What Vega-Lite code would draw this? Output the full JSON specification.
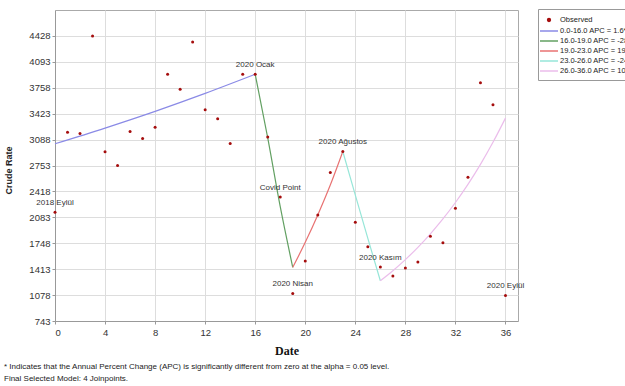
{
  "$schema": "https://vega.github.io/schema/vega-lite/v6.json",
  "autosize": "none",
  "width": 463,
  "height": 311,
  "padding": {"left": 55, "top": 10, "right": 107, "bottom": 65},
  "background": "white",
  "config": {
    "font": "Liberation Sans",
    "view": {"stroke": "#aaaaaa", "strokeWidth": 1},
    "axis": {"labelFont": "Liberation Sans", "labelFontSize": 9.5, "labelColor": "#333333", "gridColor": "#dddddd", "domainColor": "#999999", "tickColor": "#999999", "tickSize": 3}
  },
  "title": {
    "text": ["* Indicates that the Annual Percent Change (APC) is significantly different from zero at the alpha = 0.05 level.", "Final Selected Model: 4 Joinpoints."],
    "orient": "bottom",
    "anchor": "start",
    "frame": "group",
    "dx": -51,
    "offset": 6,
    "fontSize": 8,
    "fontWeight": "normal",
    "color": "#222222",
    "lineHeight": 12,
    "font": "Liberation Sans"
  },
  "datasets": {
    "obs": [
      {"x": 0, "y": 2148, "label": "2018 Eylül"},
      {"x": 1, "y": 3184, "label": null},
      {"x": 2, "y": 3167, "label": null},
      {"x": 3, "y": 4428, "label": null},
      {"x": 4, "y": 2930, "label": null},
      {"x": 5, "y": 2753, "label": null},
      {"x": 6, "y": 3193, "label": null},
      {"x": 7, "y": 3103, "label": null},
      {"x": 8, "y": 3249, "label": null},
      {"x": 9, "y": 3932, "label": null},
      {"x": 10, "y": 3737, "label": null},
      {"x": 11, "y": 4350, "label": null},
      {"x": 12, "y": 3474, "label": null},
      {"x": 13, "y": 3358, "label": null},
      {"x": 14, "y": 3038, "label": null},
      {"x": 15, "y": 3932, "label": null},
      {"x": 16, "y": 3932, "label": "2020 Ocak"},
      {"x": 17, "y": 3120, "label": null},
      {"x": 18, "y": 2347, "label": "Covid Point"},
      {"x": 19, "y": 1099, "label": "2020 Nisan"},
      {"x": 20, "y": 1518, "label": null},
      {"x": 21, "y": 2114, "label": null},
      {"x": 22, "y": 2662, "label": null},
      {"x": 23, "y": 2934, "label": "2020 Ağustos"},
      {"x": 24, "y": 2020, "label": null},
      {"x": 25, "y": 1704, "label": null},
      {"x": 26, "y": 1441, "label": "2020 Kasım"},
      {"x": 27, "y": 1324, "label": null},
      {"x": 28, "y": 1428, "label": null},
      {"x": 29, "y": 1505, "label": null},
      {"x": 30, "y": 1837, "label": null},
      {"x": 31, "y": 1755, "label": null},
      {"x": 32, "y": 2200, "label": null},
      {"x": 33, "y": 2601, "label": null},
      {"x": 34, "y": 3824, "label": null},
      {"x": 35, "y": 3539, "label": null},
      {"x": 36, "y": 1073, "label": "2020 Eylül"}
    ],
    "fit": [
      {"x": 0, "y": 3034, "segment": "0.0-16.0 APC =  1.6*"},
      {"x": 4, "y": 3237, "segment": "0.0-16.0 APC =  1.6*"},
      {"x": 8, "y": 3453, "segment": "0.0-16.0 APC =  1.6*"},
      {"x": 12, "y": 3685, "segment": "0.0-16.0 APC =  1.6*"},
      {"x": 16, "y": 3932, "segment": "0.0-16.0 APC =  1.6*"},
      {"x": 16, "y": 3932, "segment": "16.0-19.0 APC = -28.3*"},
      {"x": 17, "y": 3110, "segment": "16.0-19.0 APC = -28.3*"},
      {"x": 18, "y": 2220, "segment": "16.0-19.0 APC = -28.3*"},
      {"x": 19, "y": 1436, "segment": "16.0-19.0 APC = -28.3*"},
      {"x": 19, "y": 1436, "segment": "19.0-23.0 APC =  19.3*"},
      {"x": 20, "y": 1760, "segment": "19.0-23.0 APC =  19.3*"},
      {"x": 21, "y": 2114, "segment": "19.0-23.0 APC =  19.3*"},
      {"x": 22, "y": 2500, "segment": "19.0-23.0 APC =  19.3*"},
      {"x": 23, "y": 2934, "segment": "19.0-23.0 APC =  19.3*"},
      {"x": 23, "y": 2934, "segment": "23.0-26.0 APC = -24.0*"},
      {"x": 24, "y": 2370, "segment": "23.0-26.0 APC = -24.0*"},
      {"x": 25, "y": 1810, "segment": "23.0-26.0 APC = -24.0*"},
      {"x": 26, "y": 1263, "segment": "23.0-26.0 APC = -24.0*"},
      {"x": 26, "y": 1263, "segment": "26.0-36.0 APC = 10.3*"},
      {"x": 27, "y": 1393, "segment": "26.0-36.0 APC = 10.3*"},
      {"x": 28, "y": 1537, "segment": "26.0-36.0 APC = 10.3*"},
      {"x": 29, "y": 1695, "segment": "26.0-36.0 APC = 10.3*"},
      {"x": 30, "y": 1870, "segment": "26.0-36.0 APC = 10.3*"},
      {"x": 31, "y": 2062, "segment": "26.0-36.0 APC = 10.3*"},
      {"x": 32, "y": 2275, "segment": "26.0-36.0 APC = 10.3*"},
      {"x": 33, "y": 2509, "segment": "26.0-36.0 APC = 10.3*"},
      {"x": 34, "y": 2768, "segment": "26.0-36.0 APC = 10.3*"},
      {"x": 35, "y": 3053, "segment": "26.0-36.0 APC = 10.3*"},
      {"x": 36, "y": 3366, "segment": "26.0-36.0 APC = 10.3*"}
    ]
  },
  "encoding": {
    "x": {
      "field": "x", "type": "quantitative",
      "scale": {"domain": [0, 37], "nice": false, "zero": false},
      "axis": {"values": [0, 4, 8, 12, 16, 20, 24, 28, 32, 36], "format": "d", "title": "Date", "titleFont": "Liberation Serif", "titleFontSize": 12, "titleFontWeight": "bold", "titleColor": "#111111", "titlePadding": 9, "labelPadding": 3}
    },
    "y": {
      "field": "y", "type": "quantitative",
      "scale": {"domain": [743, 4763], "nice": false, "zero": false},
      "axis": {"values": [743, 1078, 1413, 1748, 2083, 2418, 2753, 3088, 3423, 3758, 4093, 4428], "format": "d", "title": "Crude Rate", "titleFontSize": 9, "titleFontWeight": "bold", "titleColor": "#222222", "titleX": -42, "titleY": 160, "labelPadding": 2}
    }
  },
  "layer": [
    {
      "data": {"name": "fit"},
      "mark": {"type": "line", "interpolate": "monotone", "strokeWidth": 1.2},
      "encoding": {
        "color": {
          "field": "segment", "type": "nominal",
          "scale": {
            "domain": ["Observed", "0.0-16.0 APC =  1.6*", "16.0-19.0 APC = -28.3*", "19.0-23.0 APC =  19.3*", "23.0-26.0 APC = -24.0*", "26.0-36.0 APC = 10.3*"],
            "range": ["#a50d0d", "#8a8ae6", "#62a062", "#e87272", "#96e6d8", "#ebbdeb"]
          },
          "legend": {
            "title": null,
            "orient": "none",
            "legendX": 483,
            "legendY": -1,
            "strokeColor": "#999999",
            "fillColor": "white",
            "padding": 5,
            "labelFontSize": 7.5,
            "labelColor": "#222222",
            "labelLimit": 300,
            "labelOffset": 5,
            "rowPadding": 0,
            "symbolSize": 100,
            "symbolStrokeWidth": 1.5,
            "encode": {
              "symbols": {
                "update": {
                  "shape": {"signal": "datum.value === 'Observed' ? 'circle' : 'M-1.8,0H1.8'"},
                  "size": {"signal": "datum.value === 'Observed' ? 8 : 100"},
                  "fill": {"signal": "datum.value === 'Observed' ? '#a50d0d' : 'transparent'"},
                  "stroke": {"signal": "datum.value === 'Observed' ? 'transparent' : scale('color', datum.value)"},
                  "strokeWidth": {"value": 1.5}
                }
              }
            }
          }
        }
      }
    },
    {
      "data": {"name": "obs"},
      "mark": {"type": "point", "filled": true, "shape": "circle", "size": 9, "opacity": 1},
      "encoding": {
        "color": {"datum": "Observed"}
      }
    },
    {
      "data": {"name": "obs"},
      "transform": [{"filter": "datum.label != null"}],
      "mark": {"type": "text", "dy": -9, "fontSize": 8, "color": "#333333", "font": "Liberation Sans"},
      "encoding": {
        "text": {"field": "label"}
      }
    }
  ]
}
